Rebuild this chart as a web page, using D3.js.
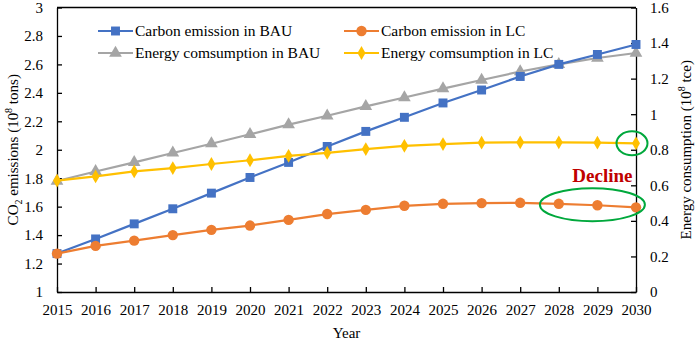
<!DOCTYPE html>
<html>
<head>
<meta charset="utf-8">
<script src="https://cdn.jsdelivr.net/npm/d3@7"></script>
<style>
  body { margin: 0; background: #fff; }
</style>
</head>
<body>
<div id="chart"></div>
<script>
// data
var years = [2015, 2016, 2017, 2018, 2019, 2020, 2021, 2022, 2023, 2024, 2025, 2026, 2027, 2028, 2029, 2030];
var carbonBAU = [1.27, 1.373, 1.479, 1.585, 1.695, 1.805, 1.911, 2.023, 2.129, 2.228, 2.329, 2.42, 2.515, 2.60, 2.67, 2.74];
var carbonLC = [1.27, 1.324, 1.361, 1.40, 1.437, 1.467, 1.507, 1.548, 1.577, 1.606, 1.62, 1.625, 1.627, 1.62, 1.61, 1.595];
var energyBAU = [0.624, 0.678, 0.729, 0.782, 0.834, 0.887, 0.941, 0.991, 1.044, 1.094, 1.144, 1.192, 1.24, 1.28, 1.316, 1.344];
var energyLC = [0.626, 0.650, 0.678, 0.697, 0.72, 0.741, 0.766, 0.782, 0.804, 0.822, 0.832, 0.84, 0.842, 0.842, 0.84, 0.836];
var leftTicks = [1, 1.2, 1.4, 1.6, 1.8, 2, 2.2, 2.4, 2.6, 2.8, 3];
var rightTicks = [0, 0.2, 0.4, 0.6, 0.8, 1, 1.2, 1.4, 1.6];
var seriesNames = ["Carbon emission in BAU", "Carbon emission in LC", "Energy comsumption in BAU", "Energy comsumption in LC"];

var serif = '"Liberation Serif", "Times New Roman", "DejaVu Serif", serif';

var width = 699, height = 342;
var margin = { top: 7.5, right: 63, bottom: 50, left: 57 };
var mwidth = width - margin.left - margin.right;
var mheight = height - margin.top - margin.bottom;

var svg = d3.select("#chart").append("svg")
    .attr("width", width)
    .attr("height", height)
    .attr("font-family", serif);

var g = svg.append("g")
    .attr("transform", "translate(" + margin.left + "," + margin.top + ")");

var x = d3.scalePoint().domain(years).range([0, mwidth]);
var yL = d3.scaleLinear().domain([1, 3]).range([mheight, 0]);
var yR = d3.scaleLinear().domain([0, 1.6]).range([mheight, 0]);

// frame top line
g.append("line")
    .attr("x1", 0).attr("x2", mwidth).attr("y1", 0).attr("y2", 0)
    .attr("stroke", "#000").attr("stroke-width", 1.3);

// axes
var xAxis = g.append("g")
    .attr("transform", "translate(0," + mheight + ")")
    .call(d3.axisBottom(x).tickSizeInner(-5).tickSizeOuter(0).tickPadding(12));
var lAxis = g.append("g")
    .call(d3.axisLeft(yL).tickValues(leftTicks).tickFormat(d3.format("")).tickSizeInner(-5).tickSizeOuter(0).tickPadding(14));
var rAxis = g.append("g")
    .attr("transform", "translate(" + mwidth + ",0)")
    .call(d3.axisRight(yR).tickValues(rightTicks).tickFormat(d3.format("")).tickSizeInner(-5).tickSizeOuter(0).tickPadding(14));

[xAxis, lAxis, rAxis].forEach(function (a) {
    a.attr("font-family", serif).attr("font-size", 15);
    a.select(".domain").attr("stroke", "#000").attr("stroke-width", 1.3);
    a.selectAll(".tick line").attr("stroke", "#000").attr("stroke-width", 1.3);
    a.selectAll(".tick text").attr("fill", "#000");
});

// lines
var series = [
    { vals: carbonBAU, y: yL, color: "#4472C4", sym: d3.symbolSquare, size: 80 },
    { vals: carbonLC, y: yL, color: "#ED7D31", sym: d3.symbolCircle, size: 85 },
    { vals: energyBAU, y: yR, color: "#A5A5A5", sym: d3.symbolTriangle, size: 70 },
    { vals: energyLC, y: yR, color: "#FFC000", sym: d3.symbolDiamond, size: 55 }
];

// draw order: energy BAU, carbon BAU, energy LC, carbon LC
[2, 0, 3, 1].forEach(function (i) {
    var s = series[i];
    var line = d3.line()
        .x(function (d, j) { return x(years[j]); })
        .y(function (d) { return s.y(d); });
    g.append("path")
        .datum(s.vals)
        .attr("fill", "none")
        .attr("stroke", s.color)
        .attr("stroke-width", 2.2)
        .attr("d", line);
    g.selectAll(null)
        .data(s.vals)
        .enter().append("path")
        .attr("transform", function (d, j) { return "translate(" + x(years[j]) + "," + s.y(d) + ")"; })
        .attr("d", d3.symbol().type(s.sym).size(s.size))
        .attr("fill", s.color);
});

// legend
var legendPos = [[41, 23.5], [287, 23.5], [41, 45.5], [287, 45.5]];
seriesNames.forEach(function (name, i) {
    var s = series[i];
    var lg = g.append("g").attr("transform", "translate(" + legendPos[i][0] + "," + legendPos[i][1] + ")");
    lg.append("line").attr("x1", 0).attr("x2", 35).attr("y1", 0).attr("y2", 0)
        .attr("stroke", s.color).attr("stroke-width", 2.2);
    lg.append("path").attr("transform", "translate(17.5,0)")
        .attr("d", d3.symbol().type(s.sym).size(s.size)).attr("fill", s.color);
    lg.append("text").attr("x", 37).attr("dy", "0.35em")
        .attr("font-size", 15.5).text(name);
});

// highlight ellipses
g.append("ellipse")
    .attr("cx", x(2030) - 4).attr("cy", yR(energyLC[15]))
    .attr("rx", 15.5).attr("ry", 12)
    .attr("fill", "none").attr("stroke", "#00A83C").attr("stroke-width", 2);
g.append("ellipse")
    .attr("cx", x(2029) - 5).attr("cy", yL(carbonLC[14]) - 0.5)
    .attr("rx", 52.5).attr("ry", 16.5)
    .attr("fill", "none").attr("stroke", "#00A83C").attr("stroke-width", 2);

g.append("text")
    .attr("x", x(2029) + 5).attr("y", yL(1.775))
    .attr("text-anchor", "middle")
    .attr("font-size", 19).attr("font-weight", "bold")
    .attr("fill", "#C00000")
    .text("Decline");

// axis titles
svg.append("text")
    .attr("x", margin.left + mwidth / 2).attr("y", 333).attr("dy", "0.35em")
    .attr("text-anchor", "middle").attr("font-size", 15).text("Year");

var lt = svg.append("text")
    .attr("transform", "translate(13," + (margin.top + mheight / 2) + ") rotate(-90)")
    .attr("text-anchor", "middle").attr("dy", "0.35em").attr("font-size", 15);
lt.append("tspan").text("CO");
lt.append("tspan").attr("dy", 4).attr("font-size", 10).text("2");
lt.append("tspan").attr("dy", -4).text(" emissions (10");
lt.append("tspan").attr("dy", -6).attr("font-size", 10).text("8");
lt.append("tspan").attr("dy", 6).text(" tons)");

var rt = svg.append("text")
    .attr("transform", "translate(686," + (margin.top + mheight / 2) + ") rotate(-90)")
    .attr("text-anchor", "middle").attr("dy", "0.35em").attr("font-size", 15);
rt.append("tspan").text("Energy consumption (10");
rt.append("tspan").attr("dy", -6).attr("font-size", 10).text("8");
rt.append("tspan").attr("dy", 6).text(" tce)");
</script>
</body>
</html>
